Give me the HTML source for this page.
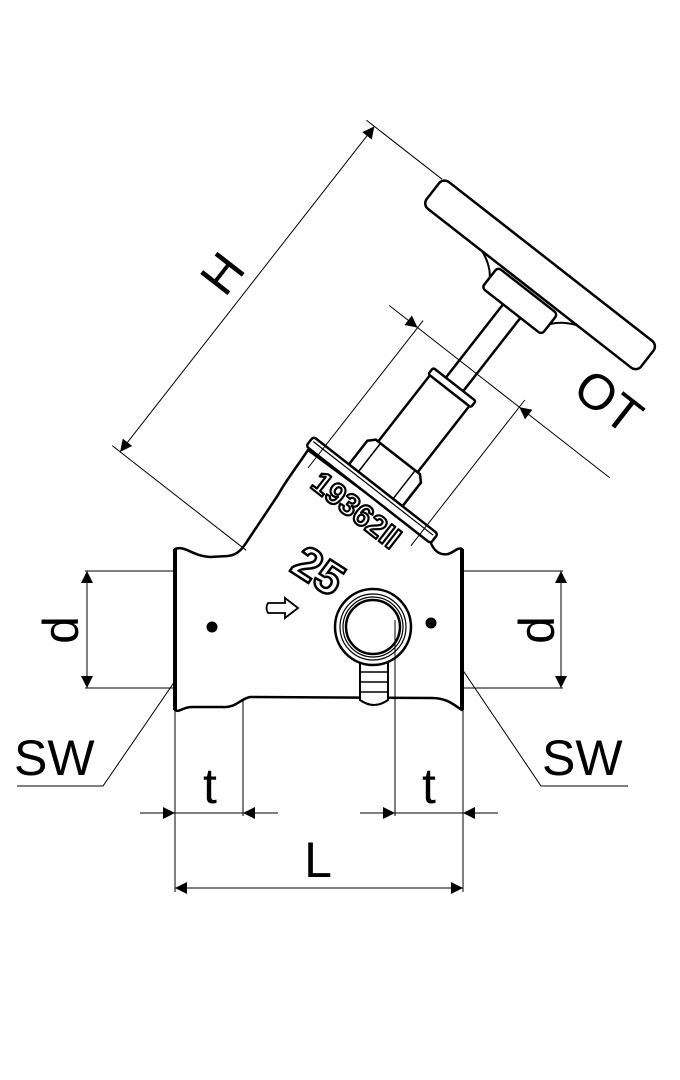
<!DOCTYPE html>
<html><head><meta charset="utf-8"><style>html,body{margin:0;padding:0;background:#fff}svg{display:block}</style></head>
<body>
<svg width="680" height="1080" viewBox="0 0 680 1080" xmlns="http://www.w3.org/2000/svg" font-family="Liberation Sans, sans-serif">
<defs>
<marker id="a" viewBox="0 0 10 10" refX="10" refY="5" markerWidth="18" markerHeight="12" markerUnits="userSpaceOnUse" orient="auto-start-reverse"><path d="M0,0 L10,5 L0,10 Z" fill="#000"/></marker>
</defs>
<g stroke="#000" stroke-width="1" fill="none">
<line x1="85" y1="571" x2="182" y2="571"/><line x1="85" y1="688" x2="182" y2="688"/>
<line x1="87" y1="571" x2="87" y2="688" marker-start="url(#a)" marker-end="url(#a)"/>
<line x1="455" y1="571" x2="563" y2="571"/><line x1="455" y1="688" x2="563" y2="688"/>
<line x1="561" y1="571" x2="561" y2="688" marker-start="url(#a)" marker-end="url(#a)"/>
<polyline points="212,627 103,786 17,786"/>
<polyline points="431,623 541,786 628,786"/>
<line x1="175" y1="710" x2="175" y2="892"/>
<line x1="243" y1="690" x2="243" y2="816"/>
<line x1="395" y1="620" x2="395" y2="816"/>
<line x1="463" y1="710" x2="463" y2="892"/>
<line x1="140" y1="813" x2="175" y2="813" marker-end="url(#a)"/>
<line x1="175" y1="813" x2="243" y2="813"/>
<line x1="278" y1="813" x2="243" y2="813" marker-end="url(#a)"/>
<line x1="360" y1="813" x2="395" y2="813" marker-end="url(#a)"/>
<line x1="395" y1="813" x2="463" y2="813"/>
<line x1="498" y1="813" x2="463" y2="813" marker-end="url(#a)"/>
<line x1="175" y1="888" x2="463" y2="888" marker-start="url(#a)" marker-end="url(#a)"/>
</g>
<path d="M175,549 C185,545 192,556 210,557 L228,556 C238,555 243,548 248,540 L278,495 C285,482 296,468 308,450 L430,540 C432,548 438,556 448,554 C455,552 457,547 462,549 L462,710 C455,706 448,698 432,698 L250,697 C240,699 236,708 222,707 L192,707 C182,707 180,713 175,710 Z" fill="#fff" stroke="#000" stroke-width="2.5" stroke-linejoin="round"/>
<line x1="175" y1="549" x2="175" y2="710" stroke="#000" stroke-width="4"/>
<line x1="462" y1="549" x2="462" y2="710" stroke="#000" stroke-width="4"/>
<g stroke="#000" fill="#fff">
<path d="M360,660 L360,700 Q374,710 388,700 L388,660 Z" stroke-width="2"/>
<line x1="360" y1="672" x2="388" y2="672" stroke-width="1.5"/>
<line x1="360" y1="682" x2="388" y2="682" stroke-width="1.5"/>
<line x1="360" y1="692" x2="388" y2="692" stroke-width="1.5"/>
<circle cx="373" cy="627" r="38" stroke-width="2.5"/>
<circle cx="373" cy="627" r="33" stroke-width="1.2"/>
<circle cx="373" cy="627" r="30" stroke-width="1.2"/>
<circle cx="373" cy="627" r="27" stroke-width="2.5"/>
</g>
<line x1="395" y1="620" x2="395" y2="700" stroke="#000" stroke-width="1"/>
<circle cx="212" cy="627" r="5.5" fill="#000"/>
<circle cx="431" cy="623" r="5.5" fill="#000"/>
<path d="M268,603 L285,603 L285,598 L298,608 L285,618 L285,613 L268,613 Q265,608 268,603 Z" fill="#fff" stroke="#000" stroke-width="1.8"/>
<text x="0" y="0" transform="translate(310,584) rotate(33)" text-anchor="middle" font-size="46" font-weight="bold" fill="#fff" stroke="#000" stroke-width="2.5">25</text>
<g transform="translate(372,490) rotate(38)" stroke="#000" fill="#fff" stroke-linejoin="round">
<rect x="-136" y="-290" width="272" height="34" rx="7" stroke-width="2.5"/>
<path d="M-60,-256 Q-45,-250 -38,-240 M60,-256 Q45,-250 38,-240" stroke-width="2"/>
<rect x="-11" y="-232" width="22" height="105" stroke-width="2.5"/>
<rect x="-38" y="-253" width="76" height="26" rx="4" stroke-width="2.5"/>
<rect x="-25" y="-128" width="50" height="88" stroke-width="2.5"/>
<rect x="-27" y="-134" width="54" height="8" rx="2" stroke-width="2.5"/>
<path d="M-34,-6 L-34,-36 L-28,-42 L28,-42 L34,-36 L34,-6 Z" stroke-width="2.5"/>
<line x1="-22" y1="-6" x2="-22" y2="-42" stroke-width="1.5"/>
<line x1="22" y1="-6" x2="22" y2="-42" stroke-width="1.5"/>
<rect x="-79" y="-6" width="158" height="12" rx="3" stroke-width="2.5"/>
<line x1="-76" y1="-2" x2="76" y2="-2" stroke-width="1.2"/>
<text x="0" y="36" text-anchor="middle" font-size="31" font-weight="bold" fill="#fff" stroke="#000" stroke-width="2.2">19362II</text>
<g fill="none" stroke-width="1">
<line x1="-64" y1="22" x2="-64" y2="-165"/>
<line x1="65" y1="20" x2="65" y2="-165"/>
<line x1="-100" y1="-156" x2="-64" y2="-156" marker-end="url(#a)"/>
<line x1="-64" y1="-156" x2="65" y2="-156"/>
<line x1="180" y1="-156" x2="65" y2="-156" marker-end="url(#a)"/>
<line x1="-222" y1="125" x2="-222" y2="-288" marker-start="url(#a)" marker-end="url(#a)"/>
<line x1="-232" y1="-288" x2="-136" y2="-288"/>
<line x1="-232" y1="125" x2="-62" y2="125"/>
</g>
</g>
<g font-size="50" fill="#000">
<text x="0" y="0" transform="translate(78,630) rotate(-90)" text-anchor="middle">d</text>
<text x="0" y="0" transform="translate(554,630) rotate(-90)" text-anchor="middle">d</text>
<text x="14" y="775">SW</text>
<text x="542" y="775">SW</text>
<text x="210" y="803" text-anchor="middle">t</text>
<text x="429" y="803" text-anchor="middle">t</text>
<text x="318" y="877" text-anchor="middle">L</text>
<text x="0" y="0" transform="translate(236,284) rotate(-52)" text-anchor="middle">H</text>
<text x="0" y="0" transform="translate(598,415) rotate(38)" text-anchor="middle">OT</text>
</g>
</svg>
</body></html>
